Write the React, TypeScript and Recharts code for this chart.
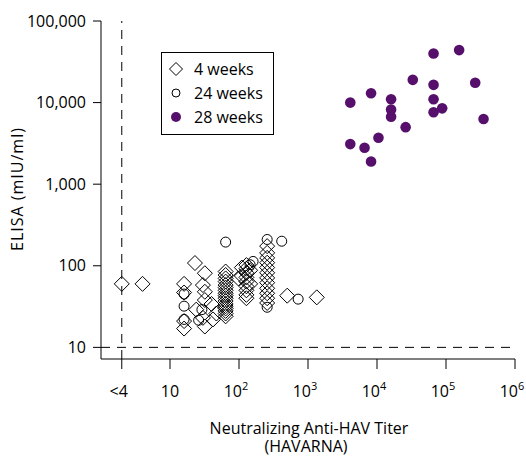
import React from 'react';
import { ScatterChart, Scatter, XAxis, YAxis, ReferenceLine, Legend } from 'recharts';

const FONT = '"Open Sans", Lato, sans-serif';
const PURPLE = '#560f6a';

// axis ticks
const xTicks = [2, 10, 100, 1000, 10000, 100000, 1000000];
const xTickBase = ['<4', '10', '10', '10', '10', '10', '10'];
const xTickExp = ['', '', '2', '3', '4', '5', '6'];
const yTicks = [10, 100, 1000, 10000, 100000];
const seriesNames = ['4 weeks', '24 weeks', '28 weeks'];

// [titer, ELISA]
const week4: [number, number][] = [
  [2, 60], [4, 60],
  [16, 60], [16, 47], [16, 21], [16, 17],
  [23, 108],
  [32, 81], [30, 58], [32, 48], [32, 38], [24, 29], [30, 23], [40, 34], [47, 26], [42, 22], [32, 18],
  [64, 85], [64, 77], [64, 70], [64, 64], [64, 58], [64, 54], [64, 50], [64, 46], [64, 43],
  [64, 40], [64, 37], [64, 34], [64, 32], [64, 30], [64, 28], [64, 26], [64, 24],
  [98, 70],
  [110, 95], [110, 75],
  [128, 102], [128, 92], [128, 82], [128, 72], [128, 64], [128, 56], [128, 50], [128, 44], [128, 40],
  [145, 88], [145, 60],
  [256, 174], [256, 144], [256, 125], [256, 109], [256, 95], [256, 82], [256, 71], [256, 62],
  [256, 53], [256, 46], [256, 40], [256, 35],
  [500, 43], [1340, 41],
];

const week24: [number, number][] = [
  [16, 45], [16, 32], [16, 22], [29, 29], [26, 21.5],
  [64, 195], [145, 103], [160, 113],
  [256, 210], [256, 31], [416, 200], [720, 39],
];

const week28: [number, number][] = [
  [66000, 40000], [155000, 44000], [33000, 19000], [66000, 16500], [265000, 17500],
  [8200, 13000], [4100, 10000], [16000, 11000], [16000, 8200], [16000, 6700],
  [66000, 11000], [88000, 8500], [66000, 7600], [26000, 5000], [350000, 6300],
  [10500, 3700], [4100, 3100], [6600, 2800], [8200, 1900],
];

const toPoints = (arr: [number, number][]) => arr.map(([x, y]) => ({ x, y }));

const Diamond = (props: any) => {
  const { cx, cy } = props;
  const r = 7.5;
  return (
    <polygon
      points={`${cx},${cy - r} ${cx + r},${cy} ${cx},${cy + r} ${cx - r},${cy}`}
      fill="none"
      stroke="#000"
      strokeWidth={1}
    />
  );
};

const OpenCircle = (props: any) => (
  <circle cx={props.cx} cy={props.cy} r={5} fill="none" stroke="#000" strokeWidth={1} />
);

const FilledCircle = (props: any) => (
  <circle cx={props.cx} cy={props.cy} r={5.3} fill={PURPLE} />
);

const XTick = (props: any) => {
  const { x, y, payload } = props;
  const i = xTicks.indexOf(payload.value);
  const shift = xTickExp[i] ? -3 : i === 0 ? -3 : 0;
  return (
    <text x={x + shift} y={y + 26} textAnchor="middle" fontFamily={FONT} fontSize={16} fill="#000">
      <tspan>{xTickBase[i]}</tspan>
      {xTickExp[i] && (
        <tspan dy={-7} fontSize={11}>
          {xTickExp[i]}
        </tspan>
      )}
    </text>
  );
};

const legendMarker = (i: number) => {
  if (i === 0) return <polygon points="8,1.5 14.5,8 8,14.5 1.5,8" fill="none" stroke="#000" />;
  if (i === 1) return <circle cx={8} cy={8} r={4} fill="none" stroke="#000" />;
  return <circle cx={8} cy={8} r={5} fill={PURPLE} />;
};

const LegendBox = () => (
  <div
    style={{
      boxSizing: 'border-box',
      width: 113,
      height: 83,
      border: '1px solid #000',
      padding: '4px 0 0 6px',
      fontFamily: FONT,
      fontSize: 16,
      lineHeight: '24px',
      color: '#000',
      background: '#fff',
    }}
  >
    {seriesNames.map((name, i) => (
      <div key={name} style={{ display: 'flex', alignItems: 'center', height: 24 }}>
        <svg width={16} height={16} style={{ marginRight: 10 }}>
          {legendMarker(i)}
        </svg>
        <span>{name}</span>
      </div>
    ))}
  </div>
);

export default function App() {
  return (
    <div>
      <style>{'body{margin:0;background:#fff}'}</style>
      <ScatterChart width={526} height={456} margin={{ top: 21, right: 11, left: 0, bottom: 0 }}>
        <XAxis
          type="number"
          dataKey="x"
          scale="log"
          domain={[1, 1000000]}
          allowDataOverflow
          ticks={xTicks}
          interval={0}
          tick={<XTick />}
          tickSize={10}
          height={97}
          stroke="#000"
          label={() => (
            <g fontFamily={FONT} fontSize={16} fill="#000">
              <text x={309} y={434} textAnchor="middle">Neutralizing Anti-HAV Titer</text>
              <text x={306} y={452} textAnchor="middle">(HAVARNA)</text>
            </g>
          )}
        />
        <YAxis
          type="number"
          dataKey="y"
          scale="log"
          domain={[7.2, 100000]}
          allowDataOverflow
          ticks={yTicks}
          interval={0}
          width={101}
          tickSize={8}
          tickMargin={7}
          stroke="#000"
          tick={{ fill: '#000', fontFamily: FONT, fontSize: 16 }}
          tickFormatter={(v: number) => v.toLocaleString('en-US')}
          label={() => (
            <text
              x={17}
              y={189}
              transform="rotate(-90, 17, 189)"
              textAnchor="middle"
              dominantBaseline="central"
              fontFamily={FONT}
              fontSize={16}
              letterSpacing={1}
              fill="#000"
            >
              ELISA (mIU/ml)
            </text>
          )}
        />
        <ReferenceLine x={2} stroke="#000" strokeDasharray="9 7" />
        <ReferenceLine y={10} stroke="#000" strokeDasharray="9 7" />
        <Scatter name={seriesNames[0]} data={toPoints(week4)} shape={Diamond} isAnimationActive={false} />
        <Scatter name={seriesNames[1]} data={toPoints(week24)} shape={OpenCircle} isAnimationActive={false} />
        <Scatter name={seriesNames[2]} data={toPoints(week28)} shape={FilledCircle} isAnimationActive={false} />
        <Legend
          layout="vertical"
          align="center"
          verticalAlign="middle"
          wrapperStyle={{ left: 161, top: 52, width: 113, height: 83 }}
          content={LegendBox}
        />
      </ScatterChart>
    </div>
  );
}
